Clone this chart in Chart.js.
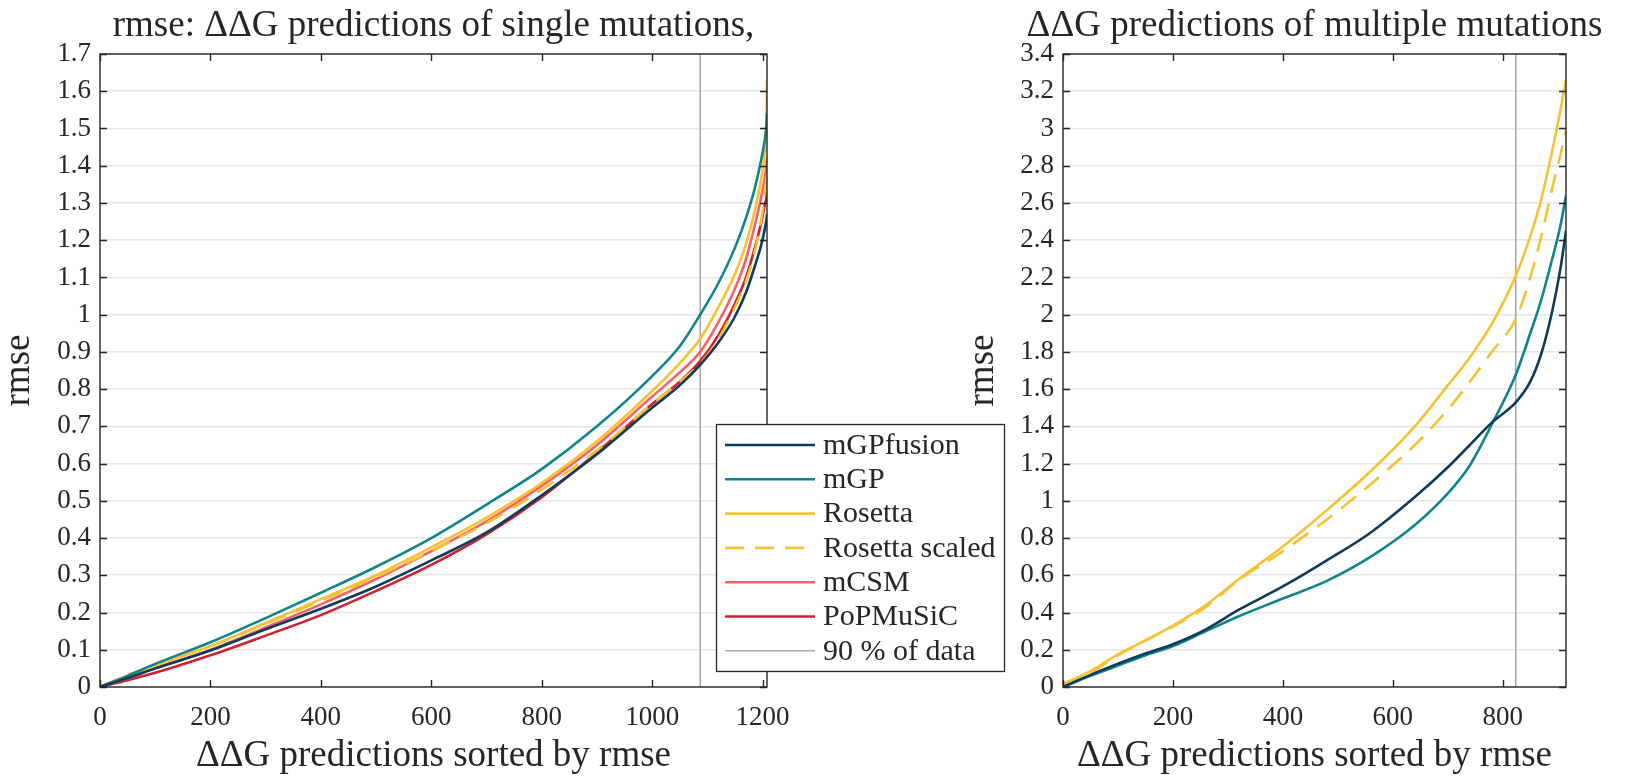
<!DOCTYPE html>
<html>
<head>
<meta charset="utf-8">
<script src="https://cdn.jsdelivr.net/npm/chart.js@4.4.1/dist/chart.umd.min.js"></script>
<style>
  body { margin: 0; background: #fff; width: 1631px; height: 778px; overflow: hidden; position: relative; }
  canvas { position: absolute; top: 0; }
  #left { left: 0; }
  #right { left: 950px; }
</style>
</head>
<body>
<canvas id="left" width="1010" height="778" style="width:1010px;height:778px"></canvas>
<canvas id="right" width="681" height="778" style="width:681px;height:778px"></canvas>
<script>
// single mutations (left panel)
const singleN = 1208;
const singleX = [0, 50, 100, 200, 300, 400, 500, 600, 700, 800, 900, 1000, 1050, 1087, 1120, 1150, 1170, 1186, 1198, 1204, 1207, 1208];
const singleFusion = [0, 0.024, 0.05, 0.098, 0.155, 0.21, 0.27, 0.34, 0.415, 0.515, 0.625, 0.75, 0.81, 0.865, 0.925, 0.995, 1.06, 1.13, 1.19, 1.23, 1.255, 1.27];
const singleMGP = [0, 0.03, 0.062, 0.12, 0.185, 0.253, 0.323, 0.4, 0.49, 0.585, 0.7, 0.835, 0.915, 1.0, 1.085, 1.18, 1.26, 1.34, 1.42, 1.47, 1.51, 1.54];
const singleRosetta = [0, 0.03, 0.058, 0.11, 0.172, 0.236, 0.3, 0.375, 0.455, 0.548, 0.66, 0.795, 0.87, 0.935, 1.02, 1.11, 1.19, 1.28, 1.37, 1.44, 1.53, 1.63];
const singleScaled = [0, 0.032, 0.058, 0.11, 0.17, 0.232, 0.296, 0.365, 0.44, 0.53, 0.635, 0.76, 0.82, 0.868, 0.935, 1.02, 1.09, 1.17, 1.26, 1.32, 1.37, 1.4];
const singleMCSM = [0, 0.024, 0.05, 0.1, 0.16, 0.222, 0.29, 0.365, 0.445, 0.54, 0.65, 0.78, 0.845, 0.9, 0.98, 1.07, 1.15, 1.24, 1.32, 1.37, 1.4, 1.42];
const singlePoP = [0, 0.018, 0.038, 0.085, 0.138, 0.193, 0.258, 0.328, 0.41, 0.51, 0.63, 0.76, 0.82, 0.875, 0.945, 1.03, 1.1, 1.18, 1.25, 1.295, 1.315, 1.33];
const singleXTicks = [0, 200, 400, 600, 800, 1000, 1200];
const singleYTicks = [0, 0.1, 0.2, 0.3, 0.4, 0.5, 0.6, 0.7, 0.8, 0.9, 1, 1.1, 1.2, 1.3, 1.4, 1.5, 1.6, 1.7];

// multiple mutations (right panel)
const multiN = 915;
const multiX = [0, 50, 100, 150, 200, 260, 320, 400, 480, 560, 640, 700, 740, 780, 824, 850, 870, 890, 905, 915];
const multiFusion = [0, 0.065, 0.125, 0.18, 0.23, 0.31, 0.415, 0.54, 0.68, 0.83, 1.02, 1.18, 1.3, 1.42, 1.53, 1.64, 1.79, 2.02, 2.25, 2.45];
const multiMGP = [0, 0.06, 0.115, 0.17, 0.22, 0.3, 0.38, 0.475, 0.57, 0.7, 0.87, 1.04, 1.19, 1.41, 1.68, 1.9, 2.08, 2.3, 2.48, 2.64];
const multiRosetta = [0.015, 0.085, 0.175, 0.25, 0.33, 0.44, 0.58, 0.755, 0.95, 1.16, 1.4, 1.62, 1.77, 1.95, 2.21, 2.42, 2.62, 2.88, 3.1, 3.26];
const multiScaled = [0.02, 0.075, 0.17, 0.25, 0.325, 0.43, 0.575, 0.73, 0.9, 1.09, 1.3, 1.49, 1.64, 1.8, 1.98, 2.2, 2.42, 2.68, 2.86, 2.99];
const multiXTicks = [0, 200, 400, 600, 800];
const multiYTicks = [0, 0.2, 0.4, 0.6, 0.8, 1, 1.2, 1.4, 1.6, 1.8, 2, 2.2, 2.4, 2.6, 2.8, 3, 3.2, 3.4];

const ink = '#262626';
const serif = '"Liberation Serif", "DejaVu Serif", serif';
const colors = {
  fusion: '#0f3b5a',
  mgp: '#0f858b',
  rosetta: '#f6c233',
  mcsm: '#fb6163',
  pop: '#cf202e',
  cut: '#a8a8a8'
};

function series(label, xs, ys, color, dashed) {
  return {
    label: label,
    data: xs.map((x, i) => ({ x: x, y: ys[i] })),
    borderColor: color,
    borderWidth: 2.6,
    borderDash: dashed ? [19, 11] : [],
    pointRadius: 0,
    cubicInterpolationMode: 'monotone',
    fill: false
  };
}

function cutLine(n, ymax) {
  return {
    label: '90 % of data',
    data: [{ x: 0.9 * n, y: 0 }, { x: 0.9 * n, y: ymax }],
    borderColor: colors.cut,
    borderWidth: 1.6,
    pointRadius: 0,
    order: 10
  };
}

function decor(opts) {
  return {
    id: 'decor',
    afterDraw(chart) {
      const ctx = chart.ctx;
      const a = chart.chartArea;
      const xs = chart.scales.x, ys = chart.scales.y;
      ctx.save();
      ctx.strokeStyle = ink;
      ctx.lineWidth = 1.4;
      ctx.beginPath();
      xs.ticks.forEach(t => {
        const p = Math.round(xs.getPixelForValue(t.value)) + 0.5;
        ctx.moveTo(p, a.bottom); ctx.lineTo(p, a.bottom - 7);
        ctx.moveTo(p, a.top); ctx.lineTo(p, a.top + 7);
      });
      ys.ticks.forEach(t => {
        const p = Math.round(ys.getPixelForValue(t.value)) + 0.5;
        ctx.moveTo(a.left, p); ctx.lineTo(a.left + 7, p);
        ctx.moveTo(a.right, p); ctx.lineTo(a.right - 7, p);
      });
      ctx.stroke();
      ctx.strokeRect(a.left, a.top, a.right - a.left, a.bottom - a.top);

      ctx.fillStyle = ink;
      ctx.font = '37px ' + serif;
      ctx.textAlign = 'center';
      ctx.textBaseline = 'middle';
      const cx = (a.left + a.right) / 2;
      ctx.fillText(opts.title, cx, 26);
      ctx.fillText('ΔΔG predictions sorted by rmse', cx, 756);
      ctx.save();
      ctx.translate(opts.yLabelX, (a.top + a.bottom) / 2);
      ctx.rotate(-Math.PI / 2);
      ctx.fillText('rmse', 0, 0);
      ctx.restore();

      if (opts.legend) {
        const L = opts.legend;
        ctx.fillStyle = '#fff';
        ctx.fillRect(L.x, L.y, L.w, L.h);
        ctx.strokeStyle = ink;
        ctx.lineWidth = 1.3;
        ctx.strokeRect(L.x + 0.5, L.y + 0.5, L.w, L.h);
        ctx.font = '30px ' + serif;
        ctx.textAlign = 'left';
        chart.data.datasets.forEach((ds, i) => {
          const yy = L.y + 21 + i * 34.3;
          ctx.strokeStyle = ds.borderColor;
          ctx.lineWidth = ds.borderWidth;
          ctx.setLineDash(ds.borderDash || []);
          ctx.beginPath();
          ctx.moveTo(L.x + 9, yy);
          ctx.lineTo(L.x + 99, yy);
          ctx.stroke();
          ctx.setLineDash([]);
          ctx.fillStyle = ink;
          ctx.fillText(ds.label, L.x + 107, yy + 1);
        });
      }
      ctx.restore();
    }
  };
}

function makeChart(id, cfg) {
  const fmt = v => String(+(+v).toFixed(1));
  return new Chart(document.getElementById(id), {
    type: 'line',
    data: { datasets: cfg.datasets },
    options: {
      responsive: false,
      animation: false,
      layout: { padding: { left: 0, top: 54, right: cfg.padRight, bottom: 0 } },
      plugins: { legend: { display: false }, tooltip: { enabled: false } },
      scales: {
        x: {
          type: 'linear',
          min: 0,
          max: cfg.xMax,
          afterBuildTicks: s => { s.ticks = cfg.xTicks.map(v => ({ value: v })); },
          afterFit: s => { s.height = 91; },
          grid: { display: false, drawTicks: false },
          border: { display: false },
          ticks: { color: ink, font: { family: serif, size: 27 }, padding: 15, maxRotation: 0, callback: fmt }
        },
        y: {
          type: 'linear',
          min: 0,
          max: cfg.yMax,
          afterBuildTicks: s => { s.ticks = cfg.yTicks.map(v => ({ value: v })); },
          afterFit: s => { s.width = cfg.yWidth; },
          grid: { color: '#e6e6e6', lineWidth: 1.6, drawTicks: false },
          border: { display: false },
          ticks: { color: ink, font: { family: serif, size: 27 }, padding: 9, callback: fmt }
        }
      }
    },
    plugins: [decor(cfg.decor)]
  });
}

function drawAll() {
  makeChart('left', {
    xMax: singleN, yMax: 1.7, xTicks: singleXTicks, yTicks: singleYTicks,
    padRight: 1010 - 767, yWidth: 100,
    datasets: [
      series('mGPfusion', singleX, singleFusion, colors.fusion),
      series('mGP', singleX, singleMGP, colors.mgp),
      series('Rosetta', singleX, singleRosetta, colors.rosetta),
      series('Rosetta scaled', singleX, singleScaled, colors.rosetta, true),
      series('mCSM', singleX, singleMCSM, colors.mcsm),
      series('PoPMuSiC', singleX, singlePoP, colors.pop),
      cutLine(singleN, 1.7)
    ],
    decor: {
      title: 'rmse: ΔΔG predictions of single mutations,',
      yLabelX: 19,
      legend: { x: 716, y: 424, w: 288, h: 247 }
    }
  });

  makeChart('right', {
    xMax: multiN, yMax: 3.4, xTicks: multiXTicks, yTicks: multiYTicks,
    padRight: 681 - (1566 - 950), yWidth: 1063 - 950,
    datasets: [
      series('mGPfusion', multiX, multiFusion, colors.fusion),
      series('mGP', multiX, multiMGP, colors.mgp),
      series('Rosetta', multiX, multiRosetta, colors.rosetta),
      series('Rosetta scaled', multiX, multiScaled, colors.rosetta, true),
      cutLine(multiN, 3.4)
    ],
    decor: {
      title: 'ΔΔG predictions of multiple mutations',
      yLabelX: 983 - 950
    }
  });
}

document.fonts.load('27px "Liberation Serif"', 'ΔΔG 0123').catch(() => null).then(drawAll);
</script>
</body>
</html>
